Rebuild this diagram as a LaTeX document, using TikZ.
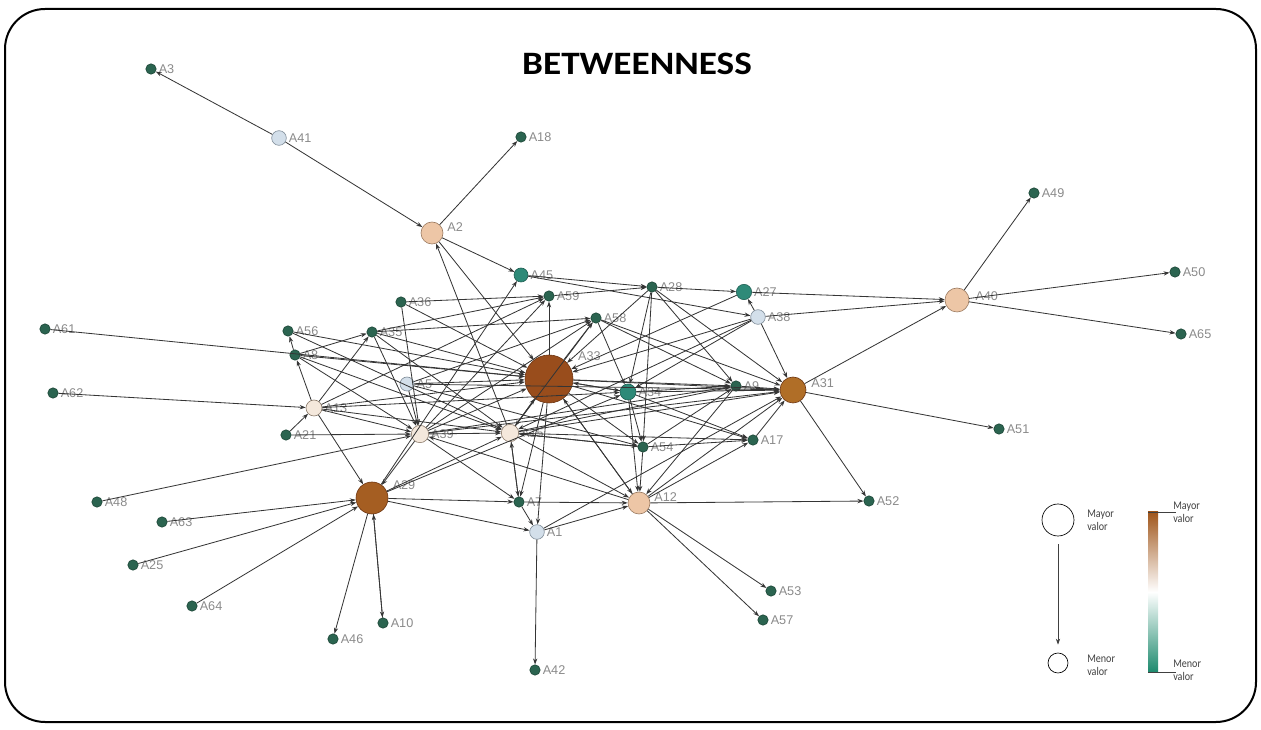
\documentclass[tikz,border=0pt]{standalone}
\usepackage{fontspec}
\usetikzlibrary{arrows.meta}
\newfontfamily\carlito{Carlito}
\newfontfamily\titlefont{Carlito}[FakeStretch=1.14]
\newfontfamily\legfont{Carlito}[FakeStretch=0.86]
\newfontfamily\nodefont{Liberation Sans}

\definecolor{dkg}{HTML}{2B6450}
\definecolor{dkgline}{HTML}{1C4536}
\definecolor{tealc}{HTML}{2E8A78}
\definecolor{tealline}{HTML}{1F5E52}
\definecolor{lblue}{HTML}{D3DFEA}
\definecolor{lblueline}{HTML}{7F8C98}
\definecolor{cream}{HTML}{F4E8DC}
\definecolor{creamline}{HTML}{8A7A6A}
\definecolor{peach}{HTML}{EDC6A6}
\definecolor{peachline}{HTML}{9A7A60}
\definecolor{brownA}{HTML}{994D1C}
\definecolor{brownB}{HTML}{A55E22}
\definecolor{brownC}{HTML}{B06E27}
\definecolor{brownline}{HTML}{6E3612}
\definecolor{labelgray}{HTML}{8A8A8A}
\definecolor{edgegray}{HTML}{353535}
\definecolor{legtxt}{HTML}{404040}
\definecolor{bartop}{HTML}{A0561B}
\definecolor{barbot}{HTML}{1E8A6E}

\tikzset{
  netnode/.style={circle, inner sep=0pt, line width=0.45pt},
  lbl/.style={font=\nodefont\fontsize{9.5}{10}\selectfont, text=labelgray, inner sep=0pt},
  small/.style={netnode, fill=dkg, draw=dkgline, minimum size=7.8pt,
    label={[lbl, label distance=1.5pt]right:#1}},
  tealn/.style={netnode, fill=tealc, draw=tealline, minimum size=11pt,
    label={[lbl, label distance=1.5pt]right:#1}},
  bluen/.style={netnode, fill=lblue, draw=lblueline, minimum size=11pt,
    label={[lbl, label distance=1.5pt]right:#1}},
  creamn/.style={netnode, fill=cream, draw=creamline, minimum size=13pt,
    label={[lbl, label distance=1.5pt]right:#1}},
  peachn/.style={netnode, fill=peach, draw=peachline, minimum size=16.5pt},
  brownn/.style={netnode, draw=brownline},
  link/.style={draw=edgegray, line width=0.62pt, -{Stealth[length=4.5pt,width=3.2pt]}},
  legtext/.style={font=\legfont\fontsize{8.8}{9.8}\selectfont, text=legtxt, align=left, inner sep=0pt, anchor=west},
}

\begin{document}
\begin{tikzpicture}[x=0.75pt, y=-0.75pt]
\useasboundingbox (0,0) rectangle (1261,730);

% frame
\draw[line width=1.5pt, rounded corners=30pt] (5,9) rectangle (1256,722);

% title
\node[font=\titlefont\bfseries\fontsize{24.5}{28}\selectfont, inner sep=0pt] (title) at (637,63.5) {BETWEENNESS};

% actors
\node[small=A3] (a3) at (151,69) {};
\node[bluen=A41] (a41) at (279,138) {};
\node[small=A18] (a18) at (521,137) {};
\node[peachn, label={[lbl, anchor=west, xshift=4pt]30:A2}] (a2) at (432,233) {};
\node[small=A49] (a49) at (1034,193) {};
\node[tealn=A45, minimum size=10.5pt] (a45) at (521,275) {};
\node[small=A28] (a28) at (652,287) {};
\node[tealn=A27, minimum size=11.5pt] (a27) at (744,292) {};
\node[peachn, minimum size=18pt, label={[lbl, anchor=west, xshift=5pt]20:A40}] (a40) at (957,300) {};
\node[small=A50] (a50) at (1175,272) {};
\node[small=A59] (a59) at (549,296) {};
\node[small=A36] (a36) at (401,302) {};
\node[small=A58] (a58) at (596,318) {};
\node[bluen=A38] (a38) at (758,317) {};
\node[small=A65] (a65) at (1181,334) {};
\node[small=A61] (a61) at (45,329) {};
\node[small=A56] (a56) at (288,331) {};
\node[small=A35] (a35) at (372,332) {};
\node[small=A8] (a8) at (295,355) {};
\node[brownn, fill=brownA, minimum size=36pt,
  label={[lbl, anchor=west, xshift=10pt, yshift=3pt]50:A33}] (a33) at (549,379) {};
\node[bluen=A5, minimum size=10.5pt] (a5) at (407,384) {};
\node[tealn=A34, minimum size=12pt] (a34) at (628,392) {};
\node[small=A9] (a9) at (736,386) {};
\node[brownn, fill=brownC, minimum size=19.5pt,
  label={[lbl, anchor=west, xshift=5pt]30:A31}] (a31) at (793,390) {};
\node[small=A62] (a62) at (53,393) {};
\node[creamn=A13, minimum size=12pt] (a13) at (314,408) {};
\node[small=A21] (a21) at (286,435) {};
\node[creamn=A39] (a39) at (420,434) {};
\node[creamn=A15] (a15) at (510,433) {};
\node[small=A54] (a54) at (643,447) {};
\node[small=A17] (a17) at (753,440) {};
\node[small=A51] (a51) at (999,429) {};
\node[small=A48] (a48) at (97,502) {};
\node[brownn, fill=brownB, minimum size=24pt,
  label={[lbl, anchor=west, xshift=6pt, yshift=2pt]40:A29}] (a29) at (372,498) {};
\node[small=A7] (a7) at (519,502) {};
\node[peachn, label={[lbl, anchor=west, xshift=4pt]30:A12}] (a12) at (639,503) {};
\node[small=A52] (a52) at (869,501) {};
\node[small=A63] (a63) at (162,522) {};
\node[bluen=A1] (a1) at (537,532) {};
\node[small=A25] (a25) at (133,565) {};
\node[small=A53] (a53) at (771,591) {};
\node[small=A64] (a64) at (192,606) {};
\node[small=A57] (a57) at (763,620) {};
\node[small=A10] (a10) at (383,623) {};
\node[small=A46] (a46) at (333,639) {};
\node[small=A42] (a42) at (535,670) {};

% directed ties
\foreach \s/\t in {
  a41/a3, a41/a2, a2/a18, a2/a45, a2/a33, a15/a2,
  a40/a49, a40/a50, a40/a65, a31/a40, a27/a40, a38/a40,
  a31/a51, a31/a52, a12/a52, a12/a53, a12/a57, a1/a42,
  a29/a46, a29/a10, a10/a29, a63/a29, a25/a29, a64/a29,
  a48/a39, a62/a13, a61/a33,
  a21/a13, a21/a39,
  a13/a8, a8/a56, a13/a35, a13/a29, a13/a39, a13/a33, a13/a15, a13/a59, a13/a34,
  a56/a33, a56/a15,
  a8/a33, a8/a39, a8/a15, a8/a35,
  a35/a59, a35/a58, a35/a33, a35/a39, a35/a15,
  a36/a59, a36/a33, a36/a39,
  a5/a33, a5/a39, a5/a58, a5/a54, a5/a31,
  a39/a33, a39/a15, a39/a29, a39/a7, a39/a58, a39/a59, a39/a9, a39/a31, a12/a39,
  a15/a33, a33/a15, a15/a7, a7/a15, a15/a31, a15/a9, a15/a54, a54/a15, a15/a12, a15/a17, a15/a58,
  a33/a59, a33/a58, a33/a34, a34/a33, a33/a9, a33/a31, a33/a12, a12/a33, a33/a54, a33/a17, a33/a1, a33/a7,
  a28/a33, a27/a33, a38/a33,
  a34/a9, a34/a31, a34/a54, a28/a34, a34/a12, a34/a17,
  a45/a28, a59/a28, a28/a27, a28/a54, a28/a31, a28/a9,
  a38/a27, a38/a31, a38/a15, a45/a38, a38/a34,
  a58/a31, a58/a9, a58/a34,
  a9/a31, a9/a12, a17/a31, a54/a17, a54/a12, a54/a9,
  a12/a31, a12/a17, a7/a12, a1/a12, a7/a1, a29/a7, a29/a1, a29/a15, a29/a34, a29/a45, a1/a31}
  \draw[link] (\s) -- (\t);

% legend: size
\node[circle, draw=black, line width=0.5pt, minimum size=24pt, inner sep=0pt] (legbig) at (1058,520) {};
\node[circle, draw=black, line width=0.5pt, minimum size=15pt, inner sep=0pt] (legsmall) at (1058,663) {};
\draw[draw=legtxt, line width=0.5pt, -{Stealth[length=4.5pt,width=3.2pt]}, shorten <=6pt, shorten >=6pt] (legbig) -- (legsmall);
\node[legtext] (legmayor) at (1087,520) {Mayor\\valor};
\node[legtext] (legmenor) at (1087,665) {Menor\\valor};

% legend: colour scale
\shade[top color=bartop, bottom color=barbot, middle color=white] (1148,512) rectangle (1158,672);
\coordinate (bartopend) at (1176,512);
\coordinate (barbotend) at (1176,672);
\draw[draw=legtxt, line width=0.6pt] (1148,512) -- (bartopend);
\draw[draw=legtxt, line width=0.6pt] (1148,672) -- (barbotend);
\node[legtext] (barmayor) at (1173,512) {Mayor\\valor};
\node[legtext] (barmenor) at (1173,670) {Menor\\valor};
\end{tikzpicture}
\end{document}
